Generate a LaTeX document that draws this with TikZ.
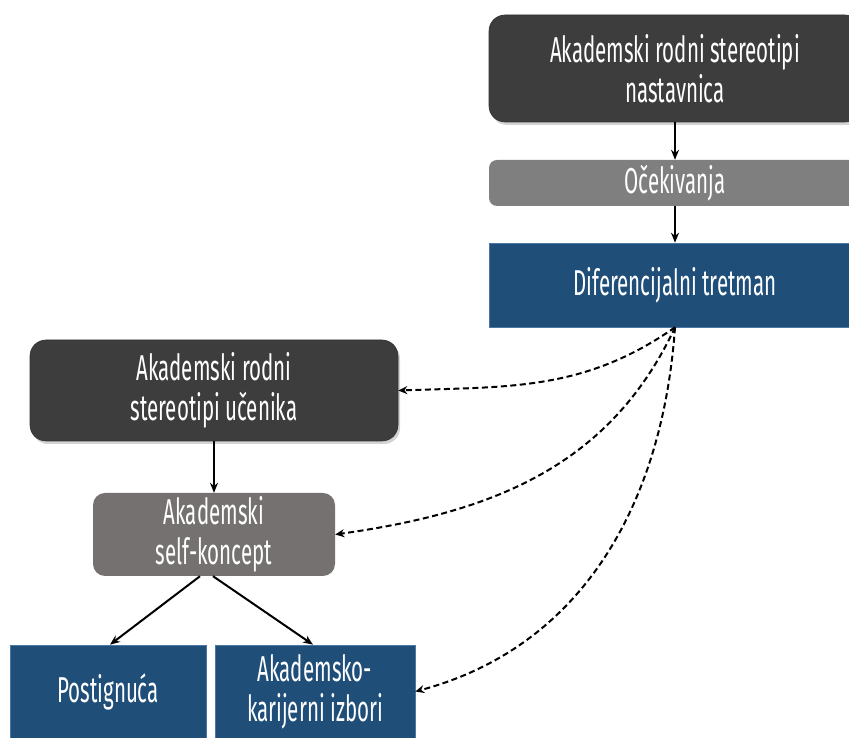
\documentclass[tikz,border=0pt]{standalone}
\usepackage{fontspec}
\usetikzlibrary{arrows.meta,shadows}
\newfontfamily\boxfont[FakeStretch=0.57]{Fira Sans}
\definecolor{darkbox}{HTML}{3D3D3D}
\definecolor{midbox}{HTML}{7F7F7F}
\definecolor{warmbox}{HTML}{757171}
\definecolor{bluebox}{HTML}{1F4E79}
\definecolor{blueedge}{HTML}{4A76A8}
\tikzset{
  lbl/.style={text=white, align=center, inner sep=0pt,
    font=\boxfont\fontsize{36}{40}\selectfont},
  darkstyle/.style={lbl, fill=darkbox, draw=black!80, line width=0.6pt,
    rounded corners=16pt,
    drop shadow={shadow xshift=2pt, shadow yshift=-3pt, opacity=0.35}},
  greystyle/.style={lbl, fill=midbox, rounded corners=8pt},
  warmstyle/.style={lbl, fill=warmbox, rounded corners=12pt},
  bluestyle/.style={lbl, fill=bluebox, draw=blueedge, line width=0.6pt},
  solidarrow/.style={-{Stealth[length=10pt,width=8pt]}, line width=2pt, black},
  dasharrow/.style={-{Stealth[length=9pt,width=8pt]}, line width=2pt, black,
    dash pattern=on 6pt off 3.5pt}
}
\begin{document}
\begin{tikzpicture}[x=1pt,y=1pt]
  \useasboundingbox (0,0) rectangle (849,738);

  % teacher side
  \node[darkstyle, minimum width=372pt, minimum height=107pt] (stereoT) at (675,669.5)
    {Akademski rodni stereotipi\\nastavnica};
  \node[greystyle, minimum width=372pt, minimum height=46pt] (expect) at (675,555)
    {Očekivanja};
  \node[bluestyle, minimum width=372pt, minimum height=84pt] (treat) at (675,453)
    {Diferencijalni tretman};

  % student side
  \node[darkstyle, minimum width=368pt, minimum height=101pt] (stereoS) at (214,347.5)
    {Akademski rodni\\stereotipi učenika};
  \node[warmstyle, minimum width=242pt, minimum height=83pt] (selfc) at (214,203.5)
    {Akademski\\self-koncept};
  \node[bluestyle, minimum width=196pt, minimum height=93pt] (achieve) at (108,46.5)
    {Postignuća};
  \node[bluestyle, minimum width=200pt, minimum height=93pt] (career) at (315,46.5)
    {Akademsko-\\karijerni izbori};

  % solid links
  \draw[solidarrow] (stereoT.south) -- (expect.north);
  \draw[solidarrow] (expect.south) -- (treat.north);
  \draw[solidarrow] (stereoS.south) -- (selfc.north);
  \draw[solidarrow] ([xshift=-14pt]selfc.south) -- ([xshift=2pt]achieve.north);
  \draw[solidarrow] ([xshift=-1pt]selfc.south) -- ([xshift=-2pt]career.north);

  % dashed influences of differential treatment
  \draw[dasharrow] (treat.south) to[out=215, in=2] (stereoS.east);
  \draw[dasharrow] (treat.south) to[out=245, in=8] (selfc.east);
  \draw[dasharrow] (treat.south) to[out=266, in=15] (career.east);
\end{tikzpicture}
\end{document}
